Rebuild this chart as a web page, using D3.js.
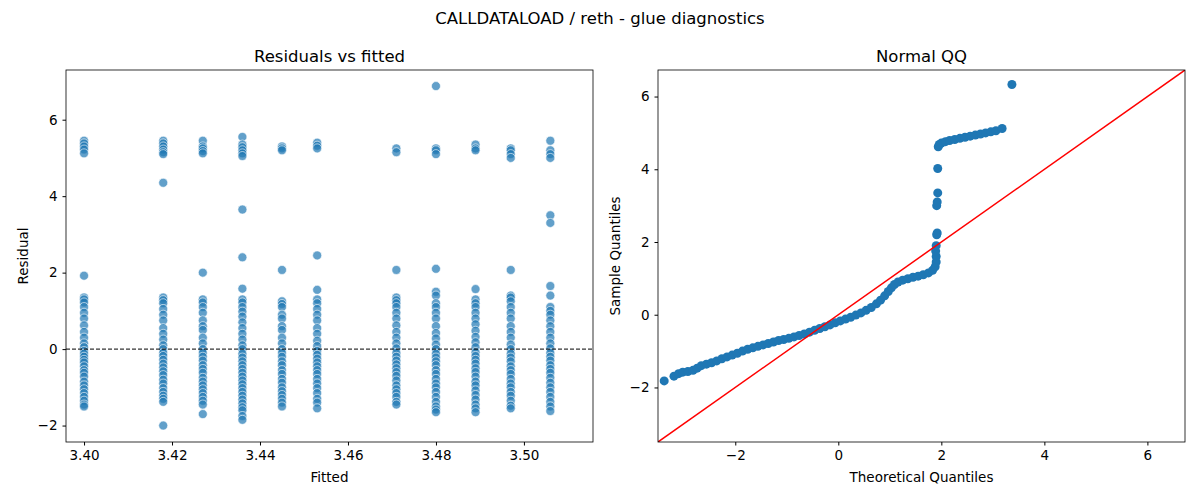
<!DOCTYPE html>
<html>
<head>
<meta charset="utf-8">
<script src="https://cdn.jsdelivr.net/npm/d3@7"></script>
<style>
  body { margin: 0; background: #fff; }
  svg text { font-family: "DejaVu Sans", sans-serif; fill: #000; }
</style>
</head>
<body>
<svg id="chart" width="1200" height="500"></svg>
<script>
// fitted value of each column
var fittedLevels = [ 3.400, 3.418, 3.427, 3.436, 3.445, 3.453, 3.471, 3.480, 3.489, 3.497, 3.506 ];

// residuals per column (same order as fittedLevels)
var residualsByLevel = [
	[ 5.45, 5.38, 5.3, 5.22, 5.12, 1.92, 1.35, 1.3, 1.22, 1.1, 0.95, 0.8, 0.62, 0.45, 0.3, 0.15, 0.05, -0.05, -0.12, -0.2, -0.28, -0.35, -0.45, -0.55, -0.62, -0.72, -0.85, -0.95, -1.05, -1.15, -1.25, -1.35, -1.45, -1.5 ],
	[ 5.45, 5.38, 5.3, 5.22, 5.15, 5.1, 4.35, 1.35, 1.28, 1.2, 1.05, 0.9, 0.75, 0.55, 0.4, 0.25, 0.1, 0.0, -0.1, -0.18, -0.28, -0.38, -0.48, -0.58, -0.68, -0.8, -0.9, -1.02, -1.12, -1.22, -1.3, -1.38, -2.0 ],
	[ 5.45, 5.3, 5.25, 5.18, 5.12, 2.0, 1.3, 1.22, 1.1, 0.95, 0.75, 0.6, 0.5, 0.3, 0.15, 0.0, -0.1, -0.2, -0.3, -0.42, -0.52, -0.62, -0.75, -0.85, -0.95, -1.05, -1.15, -1.25, -1.35, -1.45, -1.7 ],
	[ 5.55, 5.35, 5.28, 5.2, 5.12, 5.05, 3.65, 2.4, 1.58, 1.3, 1.22, 1.1, 0.98, 0.85, 0.7, 0.55, 0.4, 0.25, 0.1, 0.0, -0.12, -0.22, -0.32, -0.42, -0.52, -0.62, -0.72, -0.82, -0.92, -1.02, -1.12, -1.22, -1.32, -1.42, -1.52, -1.6, -1.75, -1.85 ],
	[ 5.3, 5.25, 5.2, 2.07, 1.25, 1.18, 1.1, 0.9, 0.8, 0.6, 0.5, 0.3, 0.15, 0.0, -0.1, -0.2, -0.32, -0.42, -0.55, -0.65, -0.78, -0.88, -1.0, -1.1, -1.2, -1.3, -1.4, -1.5 ],
	[ 5.4, 5.32, 5.25, 2.45, 1.55, 1.3, 1.2, 1.05, 0.9, 0.75, 0.55, 0.4, 0.22, 0.08, -0.05, -0.15, -0.25, -0.35, -0.45, -0.55, -0.65, -0.78, -0.9, -1.02, -1.15, -1.3, -1.4, -1.55 ],
	[ 5.25, 5.15, 2.07, 1.35, 1.28, 1.2, 1.1, 0.95, 0.8, 0.62, 0.45, 0.3, 0.15, 0.02, -0.1, -0.2, -0.3, -0.4, -0.5, -0.6, -0.7, -0.82, -0.95, -1.05, -1.15, -1.25, -1.38, -1.45 ],
	[ 6.88, 5.25, 5.2, 5.1, 2.1, 1.5, 1.4, 1.2, 1.1, 0.95, 0.8, 0.6, 0.42, 0.28, 0.12, 0.0, -0.12, -0.22, -0.32, -0.42, -0.55, -0.65, -0.78, -0.9, -1.0, -1.12, -1.25, -1.38, -1.5, -1.58, -1.65 ],
	[ 5.35, 5.25, 5.2, 1.57, 1.3, 1.2, 1.1, 0.95, 0.8, 0.65, 0.48, 0.32, 0.18, 0.05, -0.08, -0.18, -0.28, -0.38, -0.5, -0.6, -0.72, -0.85, -0.95, -1.08, -1.2, -1.32, -1.45, -1.55, -1.65 ],
	[ 5.25, 5.2, 5.1, 5.0, 2.07, 1.4, 1.35, 1.25, 1.1, 0.95, 0.8, 0.6, 0.45, 0.3, 0.12, 0.0, -0.12, -0.22, -0.32, -0.45, -0.55, -0.65, -0.78, -0.9, -1.0, -1.12, -1.22, -1.35, -1.48, -1.55 ],
	[ 5.45, 5.2, 5.1, 5.0, 3.5, 3.3, 1.65, 1.4, 1.1, 1.0, 0.9, 0.75, 0.6, 0.45, 0.3, 0.15, 0.02, -0.1, -0.2, -0.3, -0.42, -0.52, -0.62, -0.75, -0.88, -1.0, -1.12, -1.25, -1.38, -1.5, -1.62 ]
];

// normal QQ
var qqTheoretical = [ -3.38, -3.19, -3.10, -3.02, -2.92, -2.82, -2.74, -2.66, -2.56, -2.46, -2.36, -2.26, -2.16, -2.06, -1.96, -1.86, -1.76, -1.66, -1.56, -1.46, -1.36, -1.26, -1.16, -1.06, -0.96, -0.86, -0.76, -0.66, -0.56, -0.46, -0.36, -0.26, -0.16, -0.06, 0.04, 0.14, 0.24, 0.34, 0.44, 0.54, 0.64, 0.74, 0.82, 0.90, 0.97, 1.03, 1.09, 1.16, 1.25, 1.35, 1.45, 1.55, 1.65, 1.75, 1.83, 1.88, 1.90, 1.90, 1.89, 1.90, 1.91, 1.92, 1.91, 1.92, 1.93, 1.93, 1.94, 1.96, 2.00, 2.08, 2.16, 2.26, 2.36, 2.46, 2.56, 2.66, 2.76, 2.86, 2.96, 3.06, 3.18, 3.37 ];
var qqSample = [ -1.82, -1.69, -1.62, -1.58, -1.56, -1.53, -1.47, -1.40, -1.36, -1.32, -1.27, -1.21, -1.16, -1.11, -1.06, -1.00, -0.95, -0.91, -0.87, -0.83, -0.79, -0.75, -0.71, -0.68, -0.65, -0.61, -0.57, -0.53, -0.48, -0.43, -0.38, -0.33, -0.28, -0.22, -0.17, -0.12, -0.07, -0.01, 0.05, 0.12, 0.20, 0.30, 0.40, 0.52, 0.64, 0.74, 0.83, 0.90, 0.95, 0.99, 1.03, 1.06, 1.10, 1.15, 1.22, 1.32, 1.45, 1.60, 1.75, 1.90, 2.20, 2.25, 3.00, 3.10, 3.35, 4.02, 4.62, 4.68, 4.72, 4.76, 4.79, 4.82, 4.85, 4.88, 4.91, 4.94, 4.97, 5.00, 5.03, 5.06, 5.12, 6.33 ];

var xTicksLeft  = [ 3.40, 3.42, 3.44, 3.46, 3.48, 3.50 ];
var yTicksLeft  = [ -2, 0, 2, 4, 6 ];
var ticksRight  = [ -2, 0, 2, 4, 6 ];

var blue = '#1f77b4';
var svg  = d3.select( '#chart' );

svg.append( 'text' )
	.attr( 'x', 600 ).attr( 'y', 24 )
	.attr( 'text-anchor', 'middle' )
	.style( 'font-size', '16.5px' )
	.text( 'CALLDATALOAD / reth - glue diagnostics' );

function panel( box, xDomain, yDomain, xTicks, yTicks, fmt, title, xLabel, yLabel ) {
	var x = d3.scaleLinear().domain( xDomain ).range( [ box.x, box.x + box.w ] );
	var y = d3.scaleLinear().domain( yDomain ).range( [ box.y + box.h, box.y ] );
	var g = svg.append( 'g' );
	var ax = g.append( 'g' ).attr( 'transform', 'translate(0,' + ( box.y + box.h ) + ')' )
		.call( d3.axisBottom( x ).tickValues( xTicks ).tickFormat( fmt ).tickSizeOuter( 0 ).tickSize( 3.5 ).tickPadding( 5 ) );
	var ay = g.append( 'g' ).attr( 'transform', 'translate(' + box.x + ',0)' )
		.call( d3.axisLeft( y ).tickValues( yTicks ).tickFormat( d3.format( 'd' ) ).tickSizeOuter( 0 ).tickSize( 3.5 ).tickPadding( 5 ) );
	[ ax, ay ].forEach( a => {
		a.select( '.domain' ).remove();
		a.selectAll( 'text' ).style( 'font-size', '13.5px' ).text( function() { return this.textContent.replace( '-', '\u2212' ); } );
	} );
	g.append( 'text' ).attr( 'x', box.x + box.w / 2 ).attr( 'y', box.y - 8 )
		.attr( 'text-anchor', 'middle' ).style( 'font-size', '16.5px' ).text( title );
	g.append( 'text' ).attr( 'x', box.x + box.w / 2 ).attr( 'y', box.y + box.h + 40 )
		.attr( 'text-anchor', 'middle' ).style( 'font-size', '13.5px' ).text( xLabel );
	g.append( 'text' )
		.attr( 'transform', 'translate(' + ( box.x - ( yLabel === 'Residual' ? 38 : 38 ) ) + ',' + ( box.y + box.h / 2 ) + ') rotate(-90)' )
		.attr( 'text-anchor', 'middle' ).style( 'font-size', '13.5px' ).text( yLabel );
	var clipId = 'clip' + box.x;
	svg.append( 'clipPath' ).attr( 'id', clipId ).append( 'rect' )
		.attr( 'x', box.x ).attr( 'y', box.y ).attr( 'width', box.w ).attr( 'height', box.h );
	var plot = svg.append( 'g' ).attr( 'clip-path', 'url(#' + clipId + ')' );
	var frame = svg.append( 'rect' ).attr( 'x', box.x ).attr( 'y', box.y ).attr( 'width', box.w ).attr( 'height', box.h )
		.attr( 'fill', 'none' ).attr( 'stroke', '#000' ).attr( 'stroke-width', 0.8 );
	return { x: x, y: y, plot: plot };
}

// residuals vs fitted
var L = panel( { x: 66, y: 70, w: 527, h: 372 }, [ 3.3959, 3.5157 ], [ -2.43, 7.3 ],
	xTicksLeft, yTicksLeft, d3.format( '.2f' ), 'Residuals vs fitted', 'Fitted', 'Residual' );
var points = [];
fittedLevels.forEach( ( f, i ) => residualsByLevel[ i ].forEach( r => points.push( { f: f, r: r } ) ) );
L.plot.append( 'line' )
	.attr( 'x1', L.x.range()[ 0 ] ).attr( 'x2', L.x.range()[ 1 ] )
	.attr( 'y1', L.y( 0 ) ).attr( 'y2', L.y( 0 ) )
	.attr( 'stroke', '#000' ).attr( 'stroke-dasharray', '4,2' ).attr( 'stroke-width', 1 );
L.plot.selectAll( 'circle' ).data( points ).join( 'circle' )
	.attr( 'cx', d => L.x( d.f ) ).attr( 'cy', d => L.y( d.r ) ).attr( 'r', 4.5 )
	.attr( 'fill', blue ).attr( 'fill-opacity', 0.7 )
	.attr( 'stroke', '#fff' ).attr( 'stroke-width', 0.6 );
L.plot.select( 'line' ).raise();

// normal QQ
var R = panel( { x: 658, y: 70, w: 527, h: 372 }, [ -3.5, 6.73 ], [ -3.5, 6.73 ],
	ticksRight, ticksRight, d3.format( 'd' ), 'Normal QQ', 'Theoretical Quantiles', 'Sample Quantiles' );
R.plot.selectAll( 'circle' ).data( qqTheoretical ).join( 'circle' )
	.attr( 'cx', d => R.x( d ) ).attr( 'cy', ( d, i ) => R.y( qqSample[ i ] ) ).attr( 'r', 4.5 )
	.attr( 'fill', blue );
R.plot.append( 'line' )
	.attr( 'x1', R.x( -3.5 ) ).attr( 'y1', R.y( -3.5 ) )
	.attr( 'x2', R.x( 6.73 ) ).attr( 'y2', R.y( 6.73 ) )
	.attr( 'stroke', 'red' ).attr( 'stroke-width', 1.5 );
</script>
</body>
</html>
